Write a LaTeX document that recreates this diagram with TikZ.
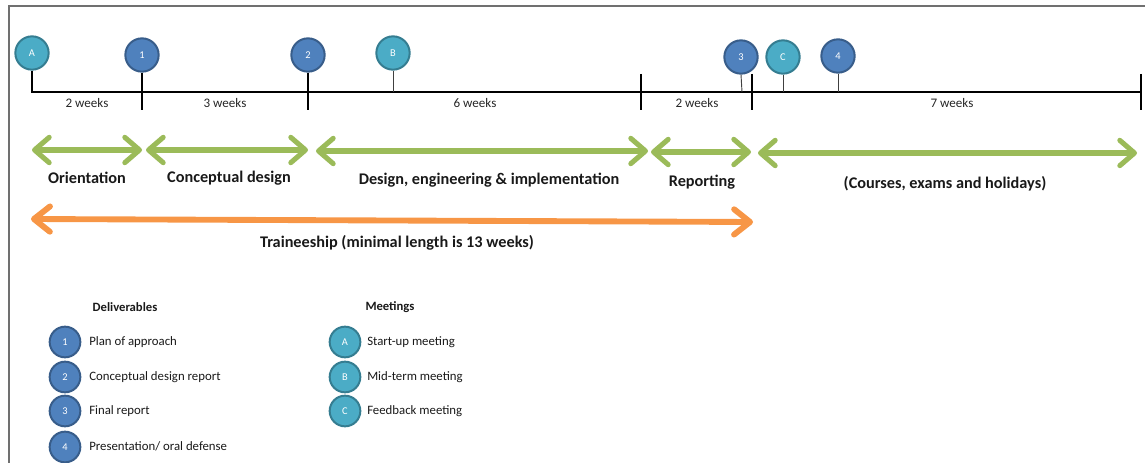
\documentclass[tikz,border=0pt]{standalone}
\usepackage{fontspec}
\setmainfont{Carlito}
\usetikzlibrary{arrows.meta}
\definecolor{delblue}{HTML}{4F81BD}
\definecolor{delborder}{HTML}{385D8A}
\definecolor{meetteal}{HTML}{4BACC6}
\definecolor{meetborder}{HTML}{357D91}
\definecolor{phasegreen}{HTML}{9BBB59}
\definecolor{trainorange}{HTML}{F79646}
\definecolor{frameGray}{HTML}{707070}
\tikzset{
  deliv/.style={circle, draw=delborder, fill=delblue, line width=1.5pt, minimum size=25pt, inner sep=0pt, text=white, font=\fontsize{7.8}{9}\selectfont},
  meet/.style={circle, draw=meetborder, fill=meetteal, line width=1.5pt, minimum size=25pt, inner sep=0pt, text=white, font=\fontsize{7.8}{9}\selectfont},
  ldeliv/.style={deliv, minimum size=23pt},
  lmeet/.style={meet, minimum size=23pt},
  tl/.style={line width=1.6pt, black},
  thintick/.style={line width=0.7pt, black!75},
  weeks/.style={font=\fontsize{9.8}{12}\selectfont, text=black!85},
  phase/.style={line width=3.8pt, phasegreen, {Straight Barb[length=11pt,width=19pt,round]}-{Straight Barb[length=11pt,width=19pt,round]}},
  train/.style={line width=4.4pt, trainorange, {Straight Barb[length=12pt,width=19pt,round]}-{Straight Barb[length=12pt,width=19pt,round]}},
  phaselbl/.style={font=\bfseries\fontsize{12.2}{14}\selectfont, text=black!90},
  legtitle/.style={font=\bfseries\fontsize{9.5}{12}\selectfont, text=black!90},
  legtext/.style={font=\fontsize{9.6}{12}\selectfont, text=black!90, anchor=west, inner xsep=0pt},
}
\begin{document}
\begin{tikzpicture}[x=0.75pt,y=-0.75pt]
\useasboundingbox (0,0) rectangle (1145,463);
% frame
\coordinate (fc) at (9,6);
\coordinate (fr) at (1145,6);
\coordinate (fb) at (9,463);
\draw[frameGray, line width=1.2pt] (fb) -- (fc) -- (fr);

% timeline coordinates
\coordinate (t0) at (32,92);
\coordinate (t5) at (1141,92);
\coordinate (t1b) at (142,110);
\coordinate (t2b) at (308,110);
\coordinate (t3a) at (641,74);
\coordinate (t3b) at (641,110);
\coordinate (t4a) at (752,74);
\coordinate (t4b) at (752,110);
\coordinate (t5a) at (1141,74);
\coordinate (t5b) at (1141,110);
\coordinate (sB) at (393,92);
\coordinate (s3) at (742,92);
\coordinate (sC) at (783,92);
\coordinate (s4) at (838,92);

% milestone circles
\node[meet]  (mA) at (32,53) {A};
\node[deliv] (d1) at (142,55) {1};
\node[deliv] (d2) at (308,55) {2};
\node[meet]  (mB) at (393,53) {B};
\node[deliv] (d3) at (741,57) {3};
\node[meet]  (mC) at (783,57) {C};
\node[deliv] (d4) at (838,56) {4};

% timeline
\draw[tl] (mA.south) -- (t0) -- (t5);
\draw[tl] (d1.south) -- (t1b);
\draw[tl] (d2.south) -- (t2b);
\draw[tl] (t3a) -- (t3b);
\draw[tl] (t4a) -- (t4b);
\draw[tl] (t5a) -- (t5b);
\draw[thintick] (mB.south) -- (sB);
\draw[thintick] (d3.south) -- (s3);
\draw[thintick] (mC.south) -- (sC);
\draw[thintick] (d4.south) -- (s4);

% week labels
\node[weeks] (w1) at (87,103) {2 weeks};
\node[weeks] (w2) at (225,103) {3 weeks};
\node[weeks] (w3) at (475,103) {6 weeks};
\node[weeks] (w4) at (697,103) {2 weeks};
\node[weeks] (w5) at (952,103) {7 weeks};

% phase arrows
\coordinate (p1a) at (32,150);  \coordinate (p1b) at (142,150);
\coordinate (p2a) at (146,150); \coordinate (p2b) at (308,150);
\coordinate (p3a) at (316,151); \coordinate (p3b) at (648,151);
\coordinate (p4a) at (651,152); \coordinate (p4b) at (751,152);
\coordinate (p5a) at (758,153); \coordinate (p5b) at (1137,153);
\draw[phase] (p1a) -- (p1b);
\draw[phase] (p2a) -- (p2b);
\draw[phase] (p3a) -- (p3b);
\draw[phase] (p4a) -- (p4b);
\draw[phase] (p5a) -- (p5b);

\node[phaselbl] (l1) at (87,178) {Orientation};
\node[phaselbl] (l2) at (229,178) {Conceptual design};
\node[phaselbl] (l3) at (489,180) {Design, engineering \& implementation};
\node[phaselbl] (l4) at (702,182) {Reporting};
\node[phaselbl] (l5) at (945,184) {(Courses, exams and holidays)};

% traineeship
\coordinate (ta) at (31,219);
\coordinate (tb) at (753,222);
\draw[train] (ta) -- (tb);
\node[phaselbl] (tl) at (397,243) {Traineeship (minimal length is 13 weeks)};

% legend: deliverables
\node[legtitle] (legD) at (125,307) {Deliverables};
\node[ldeliv] (ld1) at (65,342) {1};
\node[ldeliv] (ld2) at (65,377) {2};
\node[ldeliv] (ld3) at (65,411) {3};
\node[ldeliv] (ld4) at (65,447) {4};
\node[legtext] (ltd1) at (89,342) {Plan of approach};
\node[legtext] (ltd2) at (89,377) {Conceptual design report};
\node[legtext] (ltd3) at (89,411) {Final report};
\node[legtext] (ltd4) at (89,446) {Presentation/ oral defense};

% legend: meetings
\node[legtitle] (legM) at (390,307) {Meetings};
\node[lmeet] (lmA) at (345,342) {A};
\node[lmeet] (lmB) at (345,377) {B};
\node[lmeet] (lmC) at (345,411) {C};
\node[legtext] (ltmA) at (367,342) {Start-up meeting};
\node[legtext] (ltmB) at (367,377) {Mid-term meeting};
\node[legtext] (ltmC) at (367,411) {Feedback meeting};
\end{tikzpicture}
\end{document}
